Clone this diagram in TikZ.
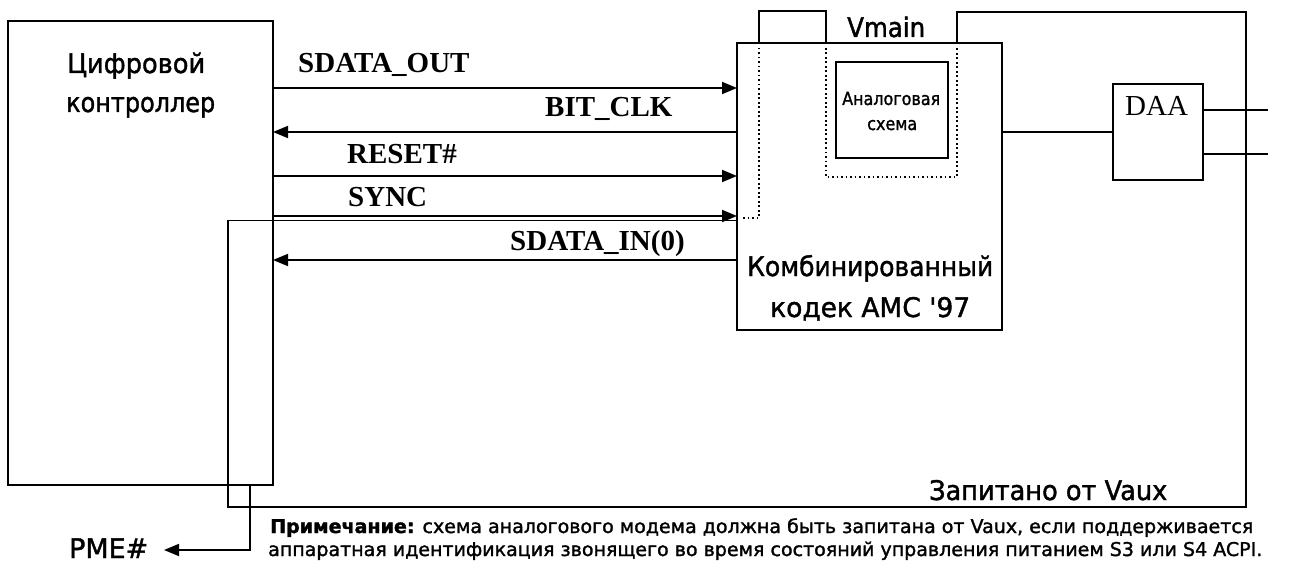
\documentclass[tikz,border=0pt]{standalone}
\usepackage{fontspec}
\setmainfont{Liberation Serif}
\newfontfamily\uifont[FakeBold=1.5]{DejaVu Sans}
\usetikzlibrary{arrows.meta}
% set a label at a given width, keeping its natural height
\newcommand{\fitw}[2]{\resizebox{#1}{\height}{#2}}

\begin{document}
\begin{tikzpicture}[x=1pt,y=-1pt,
  box/.style={draw, line width=1.8pt, inner sep=0pt, outer sep=0pt, anchor=north west},
  wire/.style={line width=1.8pt},
  sig/.style={wire, -{Triangle[length=15pt,width=12pt]}},
  dots/.style={line width=2pt, dash pattern=on 1.8pt off 2.7pt},
  lbl/.style={inner sep=0pt, anchor=base west},
  sigtxt/.style={lbl, font=\fontsize{29}{29}\selectfont\bfseries},
  serif/.style={lbl, font=\fontsize{29}{29}\selectfont},
  big/.style={lbl, font=\uifont\fontsize{27}{27}\selectfont},
  small/.style={lbl, font=\uifont\fontsize{18}{18}\selectfont},
  note/.style={lbl, font=\uifont\fontsize{19}{19}\selectfont},
  ]
\useasboundingbox (0,0) rectangle (1297,567);

% blocks
\node[box, minimum width=265pt, minimum height=464pt] (ctrl) at (8,21) {};
\node[box, minimum width=265pt, minimum height=287pt] (codec) at (737,43) {};
\node[box, minimum width=112pt, minimum height=96pt] (analog) at (836,62) {};
\node[box, minimum width=90pt, minimum height=96pt] (daa) at (1113,84) {};

% AC'97 link signals
\draw[sig] (ctrl.east |- 0,88) -- (codec.west |- 0,88);
\draw[sig] (codec.west |- 0,132) -- (ctrl.east |- 0,132);
\draw[sig] (ctrl.east |- 0,176) -- (codec.west |- 0,176);
\draw[sig] (ctrl.east |- 0,216) -- (codec.west |- 0,216);
\draw[sig] (codec.west |- 0,260) -- (ctrl.east |- 0,260);

% codec to DAA and line side
\draw[wire] (codec.east |- 0,132) -- (daa.west |- 0,132);
\coordinate (tip1) at (1268,110);
\coordinate (tip2) at (1268,154);
\draw[wire] (daa.east |- tip1) -- (tip1);
\draw[wire] (daa.east |- tip2) -- (tip2);

% Vaux powered region
\coordinate (vx1) at (228,220.5);
\coordinate (vx2) at (228,507);
\coordinate (vx3) at (1246,507);
\coordinate (vx4) at (1246,12);
\coordinate (vx5) at (957,12);
\draw[wire] (codec.west |- vx1) -- (vx1) -- (vx2) -- (vx3) -- (vx4) -- (vx5) -- (vx5 |- codec.north);

% Vmain island
\coordinate (vm1) at (759,11);
\coordinate (vm2) at (826,11);
\draw[wire] (vm1 |- codec.north) -- (vm1) -- (vm2) -- (vm2 |- codec.north);
\draw[dots] (743,218) -- (759,218) -- (759,48);
\draw[dots] (826,48) -- (826,177) -- (957,177) -- (957,48);

% PME# wake signal
\coordinate (pmetip) at (164,550);
\draw[sig] (ctrl.south -| 250,0) -- (250,550) -- (pmetip);

% labels
\node[big] (ctrl1) at (67,73) {\fitw{138pt}{Цифровой}};
\node[big] (ctrl2) at (66,112) {\fitw{149pt}{контроллер}};
\node[sigtxt] (sdo) at (298,73) {SDATA\_OUT};
\node[sigtxt] (bclk) at (545,117) {BIT\_CLK};
\node[sigtxt] (rst) at (347,163) {RESET\#};
\node[sigtxt] (sync) at (348,206) {SYNC};
\node[sigtxt] (sdi) at (510,250) {SDATA\_IN(0)};
\node[big] (vmain) at (847,37) {\fitw{78pt}{Vmain}};
\node[small] (an1) at (842,105) {\fitw{98pt}{Аналоговая}};
\node[small] (an2) at (867,130) {\fitw{50pt}{схема}};
\node[serif] (daat) at (1125,115) {DAA};
\node[big] (codec1) at (747,276) {\fitw{246pt}{Комбинированный}};
\node[big] (codec2) at (770,317) {\fitw{200pt}{кодек АМС \textquotesingle97}};
\node[big] (vaux) at (929,500) {\fitw{238pt}{Запитано от Vaux}};
\node[big] (pme) at (69,558) {\fitw{79pt}{PME\#}};
\node[note] (n1) at (270,533) {\fitw{983pt}{\textbf{Примечание:} схема аналогового модема должна быть запитана от Vaux, если поддерживается}};
\node[note] (n2) at (268,556) {\fitw{994pt}{аппаратная идентификация звонящего во время состояний управления питанием S3 или S4 ACPI.}};
\end{tikzpicture}
\end{document}
